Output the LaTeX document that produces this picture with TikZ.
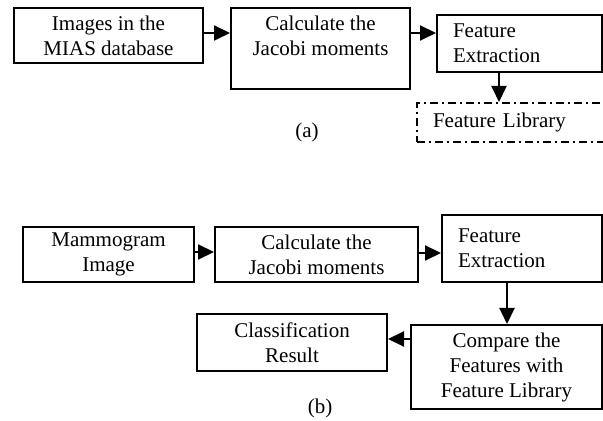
\documentclass[tikz,border=0pt]{standalone}
\usepackage{fontspec}
\setmainfont{Liberation Serif}
\usetikzlibrary{arrows.meta}

\tikzset{
  box/.style={draw, line width=1pt, inner sep=0pt, align=center},
  lbox/.style={draw, line width=1pt, inner xsep=8pt, inner ysep=0pt, align=left},
  arr/.style={-{Triangle[length=8pt,width=7.5pt]}, line width=1pt},
}

\begin{document}
\begin{tikzpicture}[x=0.5pt, y=-0.5pt, font=\fontsize{10.5}{12.5}\selectfont]
\clip (0,0) rectangle (603,421);

% (a)
\node[box, minimum width=94.5pt, minimum height=27.5pt] (imgs) at (108.5,35.5) {Images in the\\MIAS database};
\node[box, minimum width=89.5pt, minimum height=40.5pt] (calcA) at (320.5,48.5) {Calculate the\\Jacobi moments\\~};
\node[lbox, text width=66.5pt, minimum height=28.5pt] (featA) at (519.5,43.5) {Feature\\Extraction};
\node[lbox, text width=87.5pt, minimum height=19.5pt, dash pattern=on 4pt off 2pt on 1pt off 2pt] (lib) at (520.5,122.5) {Feature Library};
\node (capA) at (307,132) {(a)};

\draw[arr] (imgs.east |- 0,33) -- (calcA.west |- 0,33);
\draw[arr] (calcA.east |- 0,33) -- (featA.west |- 0,33);
\draw[arr] (featA.south -| 499,0) -- (lib.north -| 499,0);

% (b)
\node[box, minimum width=85.5pt, minimum height=27.5pt] (mammo) at (108.5,254.5) {Mammogram\\Image};
\node[box, minimum width=101.5pt, minimum height=27.5pt] (calcB) at (316.5,254.5) {Calculate the\\Jacobi moments};
\node[lbox, text width=64pt, minimum height=33.5pt] (featB) at (522,248.5) {Feature\\Extraction};
\node[box, minimum width=95.5pt, minimum height=42pt] (comp) at (506.5,367) {Compare the\\Features with\\Feature Library};
\node[box, minimum width=95pt, minimum height=28.5pt] (cls) at (292,342.5) {Classification\\Result};
\node (capB) at (320,408) {(b)};

\draw[arr] (mammo.east |- 0,252) -- (calcB.west |- 0,252);
\draw[arr] (calcB.east |- 0,253) -- (featB.west |- 0,253);
\draw[arr] (featB.south -| 507,0) -- (comp.north -| 507,0);
\draw[arr] (comp.west |- 0,339) -- (cls.east |- 0,339);
\end{tikzpicture}
\end{document}
